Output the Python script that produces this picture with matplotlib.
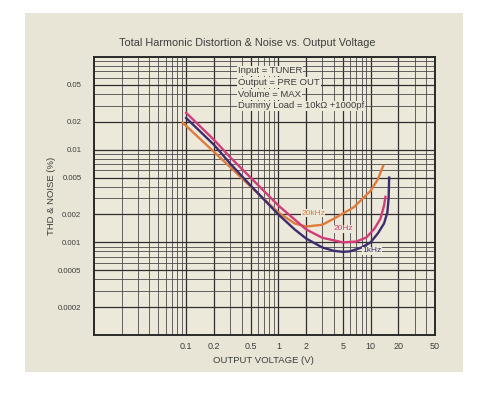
import matplotlib
matplotlib.use("Agg")
import matplotlib.pyplot as plt
from matplotlib.patches import Rectangle
from matplotlib.ticker import LogLocator, NullFormatter

plt.rcParams['font.family'] = ['Liberation Sans', 'DejaVu Sans']

# curves: output voltage (V) -> THD+N (%)
v_20hz = [0.1, 0.2, 0.3, 0.5, 1.0, 2.0, 3.0, 5.0, 7.0, 9.0, 11.0, 12.8, 14.0, 14.5]
thd_20hz = [0.025, 0.0128, 0.0083, 0.0050, 0.0025, 0.00138, 0.00112, 0.00100,
            0.00102, 0.00113, 0.0014, 0.0018, 0.0025, 0.0031]

v_1khz = [0.1, 0.2, 0.3, 0.5, 1.0, 1.5, 2.0, 3.0, 4.0, 5.0, 6.0, 8.0, 10.0,
          12.0, 14.0, 15.2, 15.7, 15.9]
thd_1khz = [0.022, 0.0113, 0.0071, 0.0041, 0.0020, 0.00138, 0.00110, 0.00088,
            0.00081, 0.00079, 0.00080, 0.00088, 0.0010, 0.00125, 0.0016,
            0.0021, 0.0030, 0.0050]

v_20khz = [0.092, 0.2, 0.3, 0.5, 1.0, 1.5, 2.0, 3.0, 4.0, 6.6, 10.0, 12.0, 13.7]
thd_20khz = [0.0195, 0.0095, 0.0065, 0.0040, 0.0021, 0.0016, 0.00148, 0.00155,
             0.0018, 0.0024, 0.0036, 0.0048, 0.0067]

x_ticks = [0.1, 0.2, 0.5, 1, 2, 5, 10, 20, 50]
x_labels = ['0.1', '0.2', '0.5', '1', '2', '5', '10', '20', '50']
y_ticks = [0.05, 0.02, 0.01, 0.005, 0.002, 0.001, 0.0005, 0.0002]
y_labels = ['0.05', '0.02', '0.01', '0.005', '0.002', '0.001', '0.0005', '0.0002']

notes = ['Input = TUNER', 'Output = PRE OUT', 'Volume = MAX',
         'Dummy Load = 10k\u03a9 +1000pf']

bg = '#e9e5d6'
txt = '#3c3c3c'

fig = plt.figure(figsize=(4.81, 3.97), dpi=100, facecolor='white')
# beige card behind the chart
fig.patches.append(Rectangle((25 / 481, 1 - 372 / 397), 438 / 481, 359 / 397,
                             transform=fig.transFigure, facecolor=bg,
                             edgecolor='none', zorder=-5))

ax = fig.add_axes([0.1954, 0.1562, 0.709, 0.700])
ax.set_facecolor('#ece8da')
ax.set_xscale('log')
ax.set_yscale('log')
ax.set_xlim(0.01, 50)
ax.set_ylim(0.0001, 0.1)

ax.set_xticks(x_ticks)
ax.set_xticklabels(x_labels)
ax.set_yticks(y_ticks)
ax.set_yticklabels(y_labels)
ax.xaxis.set_minor_locator(LogLocator(base=10, subs=[1, 2, 3, 4, 5, 6, 7, 8, 9], numticks=20))
ax.yaxis.set_minor_locator(LogLocator(base=10, subs=[1, 2, 3, 4, 5, 6, 7, 8, 9], numticks=20))
ax.xaxis.set_minor_formatter(NullFormatter())
ax.yaxis.set_minor_formatter(NullFormatter())
ax.tick_params(which='both', length=0, colors=txt)
ax.tick_params(axis='y', pad=9, labelsize=5.6)
ax.tick_params(axis='x', pad=5, labelsize=6.5)

ax.grid(which='minor', color='#4a4a4a', lw=0.6)
ax.grid(which='major', color='#2e2e2e', lw=0.9)
ax.set_axisbelow(True)
for s in ax.spines.values():
    s.set_color('#2a2a2a')
    s.set_linewidth(1.4)

ax.plot(v_20khz, thd_20khz, color='#e07b3c', lw=1.7, zorder=3)
ax.plot(v_20hz, thd_20hz, color='#d23c78', lw=1.7, zorder=4)
ax.plot(v_1khz, thd_1khz, color='#3b2d6e', lw=1.7, zorder=5)

lbl_box = dict(facecolor='#ece8da', edgecolor='none', pad=0.3)
ax.text(2.38, 0.00207, '20kHz', color='#e07b3c', fontsize=6, ha='center',
        va='center', bbox=lbl_box, zorder=6)
ax.text(5.05, 0.0014, '20Hz', color='#d23c78', fontsize=6, ha='center',
        va='center', bbox=lbl_box, zorder=6)
ax.text(10.4, 0.00081, '1kHz', color='#3b2d6e', fontsize=6, ha='center',
        va='center', bbox=lbl_box, zorder=6)

for i, line in enumerate(notes):
    ax.text(0.422, 0.95 - i * 0.042, line, transform=ax.transAxes,
            fontsize=6.8, color=txt, ha='left', va='center',
            bbox=dict(facecolor='#ece8da', edgecolor='none', pad=0.6), zorder=6)

fig.text(0.513, 0.892, 'Total Harmonic Distortion & Noise vs. Output Voltage',
         ha='center', va='center', fontsize=7.8, color=txt)
fig.text(0.547, 0.093, 'OUTPUT VOLTAGE (V)', ha='center', va='center',
         fontsize=6.8, color=txt)
fig.text(0.108, 0.506, 'THD & NOISE (%)', ha='center', va='center',
         rotation=90, fontsize=6.8, color=txt)

fig.savefig('out.png', dpi=100, facecolor='white')
